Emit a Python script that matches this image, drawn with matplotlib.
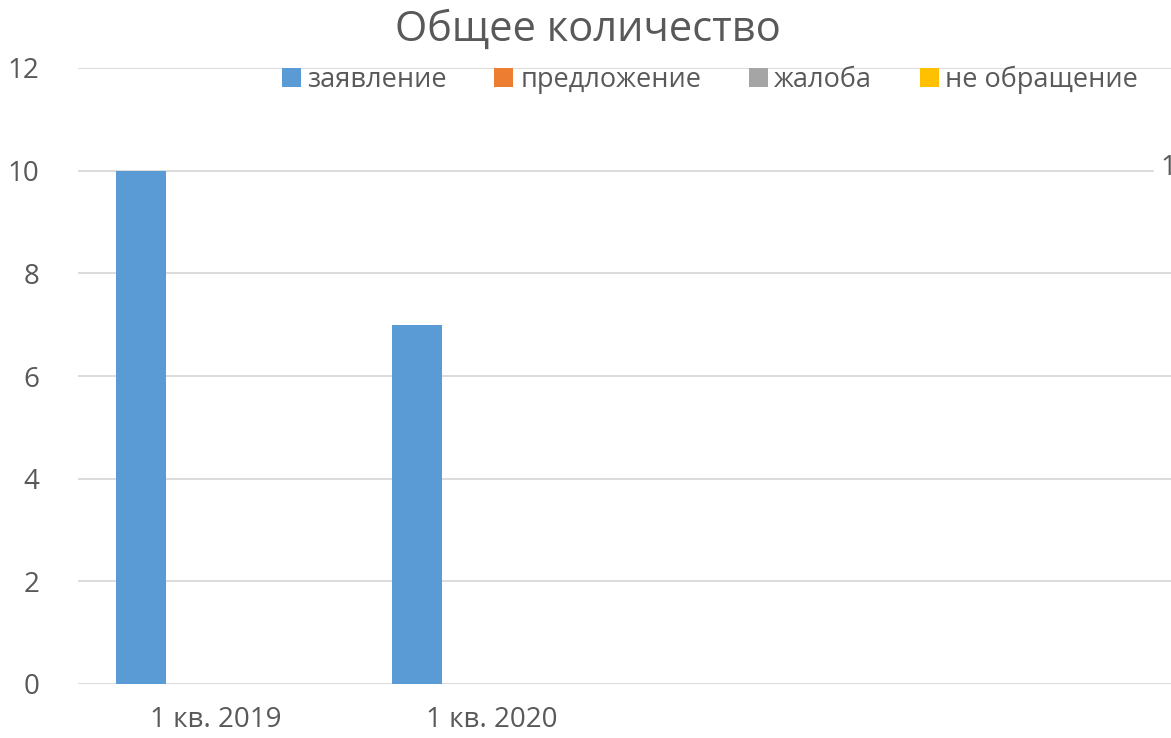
import matplotlib.pyplot as plt
import numpy as np

plt.rcParams['font.family'] = ['Open Sans', 'DejaVu Sans']

categories = ['1 кв. 2019', '1 кв. 2020', '', '']
series_names = ['заявление', 'предложение', 'жалоба', 'не обращение']
zayavlenie = [10, 7, 0, 0]
predlozhenie = [0, 0, 0, 0]
zhaloba = [0, 0, 0, 0]
ne_obrashchenie = [0, 0, 0, 0]
y_ticks = [0, 2, 4, 6, 8, 10, 12]

colors = ['#5B9BD5', '#ED7D31', '#A5A5A5', '#FFC000']
text_col = '#595959'

fig = plt.figure(figsize=(11.71, 7.38), dpi=100)
ax = fig.add_axes([78 / 1171, 1 - 684 / 738, 1104 / 1171, (684 - 68) / 738])

x = np.arange(len(categories))
w = 0.181
data = [zayavlenie, predlozhenie, zhaloba, ne_obrashchenie]
for i, (vals, name, c) in enumerate(zip(data, series_names, colors)):
    ax.bar(x + (i - 1.5) * w, vals, w, color=c, label=name, zorder=3)

ax.set_xlim(-0.5, len(categories) - 0.5)
ax.set_ylim(0, 12)
ax.set_yticks(y_ticks)
ax.set_xticks(x)
ax.set_xticklabels(categories)
ax.grid(axis='y', color='#D9D9D9', linewidth=1.3, zorder=0)
for s in ax.spines.values():
    s.set_visible(False)
ax.tick_params(length=0, colors=text_col, labelsize=20)
ax.tick_params(axis='y', pad=28)
ax.tick_params(axis='x', pad=16)

fig.text(588 / 1171, 1 - 30 / 738, 'Общее количество', ha='center', va='center',
         fontsize=30, color=text_col)

leg = ax.legend(loc='center', bbox_to_anchor=(710 / 1171, 1 - 80 / 738),
                bbox_transform=fig.transFigure, ncol=4, frameon=False,
                fontsize=19.5, handlelength=0.7, handleheight=0.7,
                handletextpad=0.25, columnspacing=1.75)
for t in leg.get_texts():
    t.set_color(text_col)

fig.text(1160 / 1171, 1 - 168 / 738, '1', ha='left', va='center',
         fontsize=20, color=text_col, backgroundcolor='white')

fig.savefig('out.png', dpi=100)
